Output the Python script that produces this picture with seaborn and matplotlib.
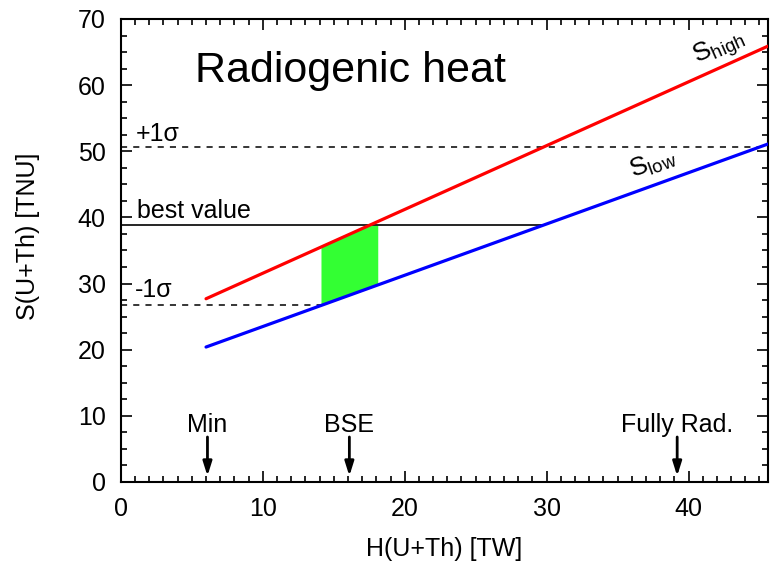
import numpy as np
import pandas as pd
import matplotlib
matplotlib.use("Agg")
import matplotlib.pyplot as plt
from matplotlib.ticker import MultipleLocator
import seaborn as sns

# Heat production H (TW) and geoneutrino signal S (TNU) for the two models
heat = [6.0, 45.6]
s_high = [27.7, 65.9]
s_low = [20.4, 51.1]

# Measured signal: best value and one-sigma band
best_value = 38.8
sigma_plus = 50.7
sigma_minus = 26.8

# BSE prediction window in heat
bse_range = [14.1, 18.1]

# Reference models marked along the heat axis
marker_names = ["Min", "BSE", "Fully Rad."]
marker_heat = [6.1, 16.1, 39.2]

sns.set_theme(style="ticks")
plt.rcParams["font.family"] = ["Liberation Sans", "DejaVu Sans"]
plt.rcParams["mathtext.fontset"] = "custom"
plt.rcParams["mathtext.rm"] = "Liberation Sans"
plt.rcParams["mathtext.it"] = "Liberation Sans"
for key in ["text.color", "axes.labelcolor", "xtick.color", "ytick.color",
            "axes.edgecolor", "xtick.labelcolor", "ytick.labelcolor"]:
    plt.rcParams[key] = "black"

fig = plt.figure(figsize=(7.7, 5.67), dpi=100)
ax = fig.add_axes([0.157, 0.15, 0.8404, 0.8165])

xmax, ymax = 45.6, 70

df = pd.DataFrame({
    "H": heat * 2,
    "S": s_high + s_low,
    "model": ["high"] * 2 + ["low"] * 2,
})
sns.lineplot(data=df, x="H", y="S", hue="model",
             palette={"high": "#ff0000", "low": "#0000ff"},
             linewidth=2.3, legend=False, ax=ax, zorder=3)

def low_at(s):
    # heat where the low-signal line reaches a given signal
    return np.interp(s, s_low, heat)

def high(h):
    return np.interp(h, heat, s_high)

def low(h):
    return np.interp(h, heat, s_low)

# Horizontal reference levels, each stopping at the low-signal line
ax.plot([0, min(low_at(sigma_plus), xmax)], [sigma_plus] * 2,
        color="black", lw=1.1, ls=(0, (4, 4)), zorder=2)
ax.plot([0, low_at(best_value)], [best_value] * 2,
        color="black", lw=1.2, zorder=2)
ax.plot([0, low_at(sigma_minus)], [sigma_minus] * 2,
        color="black", lw=1.1, ls=(0, (4, 4)), zorder=2)

# Allowed region: BSE window below the best value
hh = np.linspace(bse_range[0], bse_range[1], 100)
ax.fill_between(hh, low(hh), np.minimum(high(hh), best_value),
                color="#33ff33", lw=0, zorder=1)

fs = 18
ax.text(1.05, 51.5, "+1σ", fontsize=fs, va="baseline", ha="left")
ax.text(1.1, 39.9, "best value", fontsize=fs, va="baseline", ha="left")
ax.text(1.0, 27.9, "-1σ", fontsize=fs, va="baseline", ha="left")

ax.text(5.2, 60.4, "Radiogenic heat", fontsize=31, va="baseline", ha="left")

ax.text(40.6, 63.3, r"S$_{\mathrm{high}}$", fontsize=19, rotation=24,
        rotation_mode="anchor", va="baseline", ha="left")
ax.text(36.1, 45.9, r"S$_{\mathrm{low}}$", fontsize=19, rotation=20,
        rotation_mode="anchor", va="baseline", ha="left")

for name, h in zip(marker_names, marker_heat):
    ax.text(h, 7.6, name, fontsize=fs, ha="center", va="baseline")
    ax.annotate("", xy=(h, 0.9), xytext=(h, 6.8),
                arrowprops=dict(arrowstyle="-|>,head_length=0.7,head_width=0.22",
                                color="black", lw=2.0, shrinkA=0, shrinkB=0))

ax.set_xlim(0, xmax)
ax.set_ylim(0, ymax)
ax.xaxis.set_major_locator(MultipleLocator(10))
ax.xaxis.set_minor_locator(MultipleLocator(1))
ax.yaxis.set_major_locator(MultipleLocator(10))
ax.yaxis.set_minor_locator(MultipleLocator(2.5))
ax.tick_params(which="both", direction="in", top=True, right=True,
               color="black", width=1.2)
ax.tick_params(which="major", length=8, labelsize=18, pad=11)
ax.tick_params(which="minor", length=4)
for s in ax.spines.values():
    s.set_visible(True)
    s.set_linewidth(1.5)
    s.set_color("black")

ax.set_xlabel("H(U+Th) [TW]", fontsize=18, labelpad=11)
ax.set_ylabel("S(U+Th) [TNU]", fontsize=18)
ax.yaxis.set_label_coords(-0.125, 0.53)

fig.savefig("out.png", dpi=100)
